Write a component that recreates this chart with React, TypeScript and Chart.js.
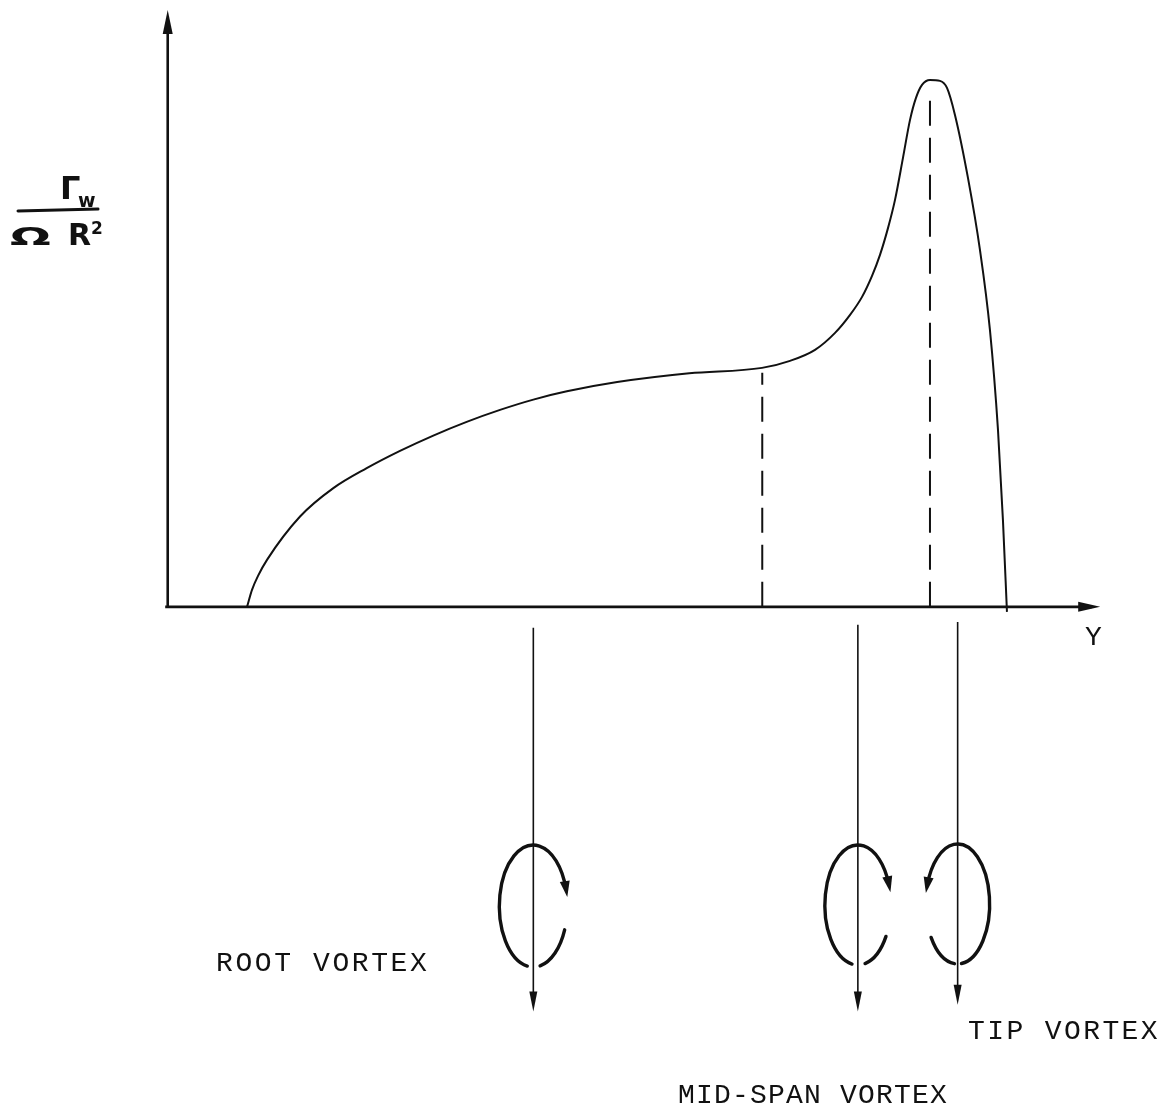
import React, { useEffect, useRef } from "react";
import { Chart, registerables } from "chart.js";

Chart.register(...registerables);

// Spanwise station Y (0 = root axis, 1 = blade tip) and wake circulation Γw / ΩR² (peak = 1)
const SPAN = [
  0.0946, 0.1005, 0.1077, 0.1184, 0.1578, 0.1975, 0.2373, 0.277, 0.3167, 0.3565, 0.3963,
  0.436, 0.476, 0.536, 0.622, 0.7087, 0.7421, 0.7719, 0.7958, 0.8137, 0.828, 0.8399,
  0.8494, 0.859, 0.8673, 0.8768, 0.8852, 0.8923, 0.8995, 0.909, 0.9209, 0.9293, 0.9388,
  0.9543, 0.9686, 0.9805, 0.9901, 0.996, 1.0008,
];
const GAMMA = [
  0.0, 0.0324, 0.059, 0.0895, 0.172, 0.2261, 0.2642, 0.2971, 0.3263, 0.3524, 0.3752,
  0.3948, 0.4105, 0.4281, 0.4448, 0.4552, 0.4686, 0.4895, 0.5219, 0.5562, 0.5905, 0.6305,
  0.6705, 0.7219, 0.7752, 0.8552, 0.9276, 0.9695, 0.9943, 1.0038, 1.002, 0.9886, 0.9371,
  0.8171, 0.68, 0.5276, 0.3371, 0.1657, -0.0095,
];

// Dashed markers: mid-span break in the curve and the circulation peak
const MARKER_X = [0.709, 0.909];
const MARKER_TOP = [0.446, 0.98];

// Trailed vortices below the axis: root, mid-span, tip
const VORTEX_NAMES = ["ROOT VORTEX", "MID-SPAN VORTEX", "TIP VORTEX"];
const VORTEX_X = [0.436, 0.823, 0.942];
const VORTEX_TOP = [-0.04, -0.034, -0.029];
const VORTEX_BOTTOM = [-0.771, -0.771, -0.758];
const VORTEX_LOOP_Y = [-0.57, -0.568, -0.566];

// Axis extents
const X_AXIS_END = 1.112;
const Y_AXIS_END = 1.137;

const X_MIN = -0.2;
const X_MAX = 1.2;
const Y_MIN = -0.968;
const Y_MAX = 1.156;

const INK = "#111";
const MONO = '"Liberation Mono", "DejaVu Sans Mono", monospace';

function arrowHead(
  ctx: CanvasRenderingContext2D,
  tx: number,
  ty: number,
  dx: number,
  dy: number,
  len: number,
  half: number
) {
  const n = Math.hypot(dx, dy) || 1;
  const ux = dx / n;
  const uy = dy / n;
  const bx = tx - ux * len;
  const by = ty - uy * len;
  ctx.beginPath();
  ctx.moveTo(tx, ty);
  ctx.lineTo(bx - uy * half, by + ux * half);
  ctx.lineTo(bx + uy * half, by - ux * half);
  ctx.closePath();
  ctx.fill();
}

const sketchPlugin = {
  id: "sketchOverlay",
  afterDatasetsDraw(chart: any) {
    const ctx: CanvasRenderingContext2D = chart.ctx;
    const sx = chart.scales.x;
    const sy = chart.scales.y;
    const px = (v: number) => sx.getPixelForValue(v);
    const py = (v: number) => sy.getPixelForValue(v);

    ctx.save();
    ctx.fillStyle = INK;
    ctx.strokeStyle = INK;

    // axis arrowheads
    arrowHead(ctx, px(X_AXIS_END), py(0), 1, 0, 22, 5);
    arrowHead(ctx, px(0), py(Y_AXIS_END), 0, -1, 24, 5);

    // vortex line arrowheads
    VORTEX_X.forEach((x, i) => {
      arrowHead(ctx, px(x), py(VORTEX_BOTTOM[i]), 0, 1, 20, 4);
    });

    // rotation loops around each trailed vortex
    const loops = [
      { rx: 34, ry: 61, main: [1.75, 2 * Math.PI - 0.28], small: [0.4, 1.37], ccw: false },
      { rx: 33, ry: 60, main: [1.75, 2 * Math.PI - 0.35], small: [0.55, 1.35], ccw: false },
      { rx: 32, ry: 60, main: [1.45, 3.46], small: [1.67, 2.55], ccw: true },
    ];
    ctx.lineWidth = 3.4;
    ctx.lineCap = "round";
    loops.forEach((l, i) => {
      const cx = px(VORTEX_X[i]);
      const cy = py(VORTEX_LOOP_Y[i]);
      ctx.beginPath();
      ctx.ellipse(cx, cy, l.rx, l.ry, 0, l.main[0], l.main[1], l.ccw);
      ctx.stroke();
      ctx.beginPath();
      ctx.ellipse(cx, cy, l.rx, l.ry, 0, l.small[0], l.small[1], false);
      ctx.stroke();
      const te = l.main[1];
      const ex = cx + l.rx * Math.cos(te);
      const ey = cy + l.ry * Math.sin(te);
      let dx = -l.rx * Math.sin(te);
      let dy = l.ry * Math.cos(te);
      if (l.ccw) {
        dx = -dx;
        dy = -dy;
      }
      const n = Math.hypot(dx, dy);
      arrowHead(ctx, ex + (dx / n) * 8, ey + (dy / n) * 8, dx, dy, 16, 5);
    });

    // typewritten labels
    ctx.textBaseline = "alphabetic";
    ctx.font = `28px ${MONO}`;
    (ctx as any).letterSpacing = "2.6px";
    ctx.fillText(VORTEX_NAMES[0], 216, 971);
    (ctx as any).letterSpacing = "1.2px";
    ctx.fillText(VORTEX_NAMES[1], 678, 1103);
    (ctx as any).letterSpacing = "2.4px";
    ctx.fillText(VORTEX_NAMES[2], 968, 1039);
    (ctx as any).letterSpacing = "0px";
    ctx.fillText("Y", 1085, 645);

    // ordinate label Γw / ΩR²
    ctx.font = `bold 32px "DejaVu Sans", sans-serif`;
    ctx.fillText("Γ", 60, 199);
    ctx.font = `bold 19px "DejaVu Sans", sans-serif`;
    ctx.fillText("w", 78, 207);
    ctx.lineWidth = 3;
    ctx.beginPath();
    ctx.moveTo(18, 211);
    ctx.lineTo(98, 209);
    ctx.stroke();
    ctx.save();
    ctx.translate(10, 245);
    ctx.scale(1.6, 0.85);
    ctx.font = `bold 30px "DejaVu Sans", sans-serif`;
    ctx.fillText("Ω", 0, 0);
    ctx.restore();
    ctx.font = `bold 30px "DejaVu Sans", sans-serif`;
    ctx.fillText("R", 68, 245);
    ctx.font = `bold 17px "DejaVu Sans", sans-serif`;
    ctx.fillText("2", 91, 234);

    ctx.restore();
  },
};

export default function App() {
  const canvasRef = useRef<HTMLCanvasElement | null>(null);

  useEffect(() => {
    const canvas = canvasRef.current;
    if (!canvas) return;

    const seg = (x: number, y0: number, y1: number) => [
      { x, y: y0 },
      { x, y: y1 },
    ];

    const lineBase = {
      showLine: true,
      pointRadius: 0,
      pointHoverRadius: 0,
      fill: false,
      borderColor: INK,
      backgroundColor: INK,
    };

    const datasets: any[] = [
      {
        ...lineBase,
        label: "Γw / ΩR²",
        data: SPAN.map((x, i) => ({ x, y: GAMMA[i] })),
        borderWidth: 2,
        cubicInterpolationMode: "monotone",
      },
      {
        ...lineBase,
        label: "x-axis",
        data: [
          { x: -0.003, y: 0 },
          { x: X_AXIS_END - 0.01, y: 0 },
        ],
        borderWidth: 2.6,
      },
      {
        ...lineBase,
        label: "y-axis",
        data: seg(0, 0, Y_AXIS_END - 0.02),
        borderWidth: 2.6,
      },
      ...MARKER_X.map((x, i) => ({
        ...lineBase,
        label: `marker ${i}`,
        data: seg(x, 0, MARKER_TOP[i]),
        borderWidth: 2,
        borderDash: [25, 12],
      })),
      ...VORTEX_X.map((x, i) => ({
        ...lineBase,
        label: VORTEX_NAMES[i],
        data: seg(x, VORTEX_TOP[i], VORTEX_BOTTOM[i] + 0.02),
        borderWidth: 1.6,
      })),
    ];

    const chart = new Chart(canvas, {
      type: "scatter",
      data: { datasets },
      options: {
        responsive: false,
        animation: false,
        layout: { padding: 0 },
        plugins: {
          legend: { display: false },
          tooltip: { enabled: false },
        },
        scales: {
          x: { type: "linear", min: X_MIN, max: X_MAX, display: false },
          y: { type: "linear", min: Y_MIN, max: Y_MAX, display: false },
        },
      },
      plugins: [sketchPlugin],
    });

    return () => chart.destroy();
  }, []);

  return (
    <div style={{ position: "absolute", left: 0, top: 0, width: 1174, height: 1115, background: "#fff" }}>
      <canvas ref={canvasRef} width={1174} height={1115} style={{ display: "block" }} />
    </div>
  );
}
